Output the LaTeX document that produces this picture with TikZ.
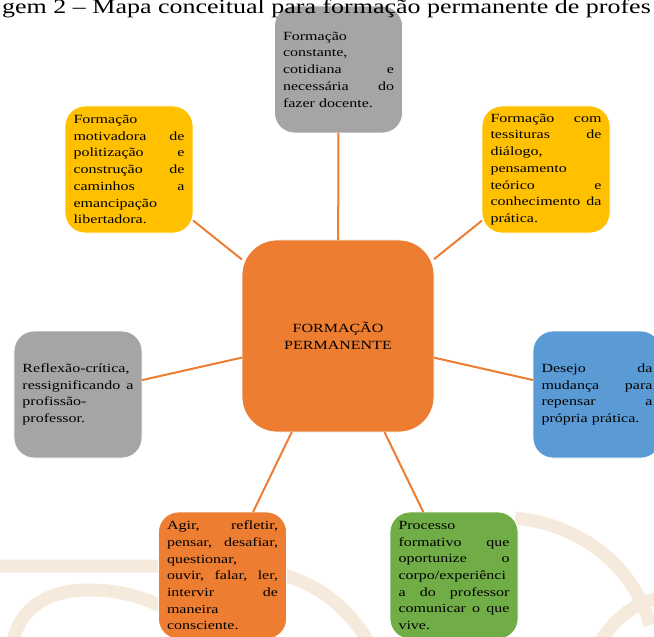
\documentclass[tikz,border=0pt]{standalone}
\usepackage{fontspec}
\setmainfont{Liberation Serif}[FakeStretch=1.28]
\definecolor{boxgray}{HTML}{A5A5A5}
\definecolor{boxgold}{HTML}{FFC000}
\definecolor{boxorange}{HTML}{ED7D31}
\definecolor{boxblue}{HTML}{5B9BD5}
\definecolor{boxgreen}{HTML}{70AD47}
\definecolor{markbeige}{HTML}{F5EADB}
\newcommand{\boxfont}{\fontsize{12.5bp}{16.7bp}\selectfont}
\newcommand{\titlefont}{\fontsize{20.3bp}{24bp}\selectfont}

\begin{document}
\begin{tikzpicture}[line cap=round,line join=round,x=1bp,y=-1bp,
    ideia/.style={rectangle, rounded corners=20bp, draw=white, line width=0.8bp, text width=111bp, inner xsep=8.5bp, inner ysep=0pt, minimum height=127bp, align=left, font=\boxfont},
    centro/.style={rectangle, rounded corners=35bp, draw=white, line width=0.8bp, fill=boxorange, minimum width=192bp, minimum height=192bp, inner sep=0pt, align=center, font=\boxfont},
    ligacao/.style={draw=boxorange, line width=2bp},
    marca/.style={draw=markbeige, line width=13bp, line cap=butt}]
                    \useasboundingbox (0,0) rectangle (654,637);
                    \clip (0,0) rectangle (654,637);

                    \draw [marca] (-5,566) -- (220,566) .. controls (300,566) and (345,600) .. (370,645);
                    \draw [marca] (12,645) .. controls (20,605) and (50,590) .. (90,590) .. controls (120,590) and (145,598) .. (160,606);
                    \draw [marca] (515,518) .. controls (585,525) and (635,570) .. (650,625);
                    \draw [marca] (598,645) .. controls (615,618) and (635,602) .. (660,598);

                    \node [centro] (formacao) at (338,336) {FORMAÇÃO\\PERMANENTE};

                    \node [ideia, fill=boxgray] (constante) at (338.5,69.5) {Formação\\constante,\\cotidiana\hfill e\\necessária\hfill do\\fazer docente.};
                    \node [ideia, fill=boxgold] (motivadora) at (129,169.5) {Formação\\motivadora\hfill de\\politização\hfill e\\construção\hfill de\\caminhos\hfill a\\emancipação\\libertadora.};
                    \node [ideia, fill=boxgold] (tessituras) at (546,169.5) {Formação\hfill com\\tessituras\hfill de\\diálogo,\\pensamento\\teórico\hfill e\\conhecimento\hfill da\\prática.};
                    \node [ideia, fill=boxgray] (reflexao) at (78,394.5) {Reflexão-crítica,\\ressignificando\hfill a\\profissão-\\professor.};
                    \node [ideia, fill=boxblue] (desejo) at (597,394.5) {Desejo\hfill da\\mudança\hfill para\\repensar\hfill a\\própria prática.};
                    \node [ideia, fill=boxorange] (agir) at (222.5,575.5) {Agir,\hfill refletir,\\pensar,\hfill desafiar,\\questionar,\\ouvir,\hfill falar,\hfill ler,\\intervir\hfill de\\maneira\\consciente.};
                    \node [ideia, fill=boxgreen] (processo) at (454,575.5) {Processo\\formativo\hfill que\\oportunize\hfill o\\corpo/experiênci\\a\hfill do\hfill professor\\comunicar\hfill o\hfill que\\vive.};

                    \draw [ligacao] (formacao) -- (constante);
                    \draw [ligacao] (formacao) -- (motivadora);
                    \draw [ligacao] (formacao) -- (tessituras);
                    \draw [ligacao] (formacao) -- (reflexao);
                    \draw [ligacao] (formacao) -- (desejo);
                    \draw [ligacao] (formacao) -- (agir);
                    \draw [ligacao] (formacao) -- (processo);

                    \node [anchor=base west, inner sep=0pt, font=\titlefont] (titulo) at (2,14) {gem 2 -- Mapa conceitual para formação permanente de profes};
\end{tikzpicture}
\end{document}
